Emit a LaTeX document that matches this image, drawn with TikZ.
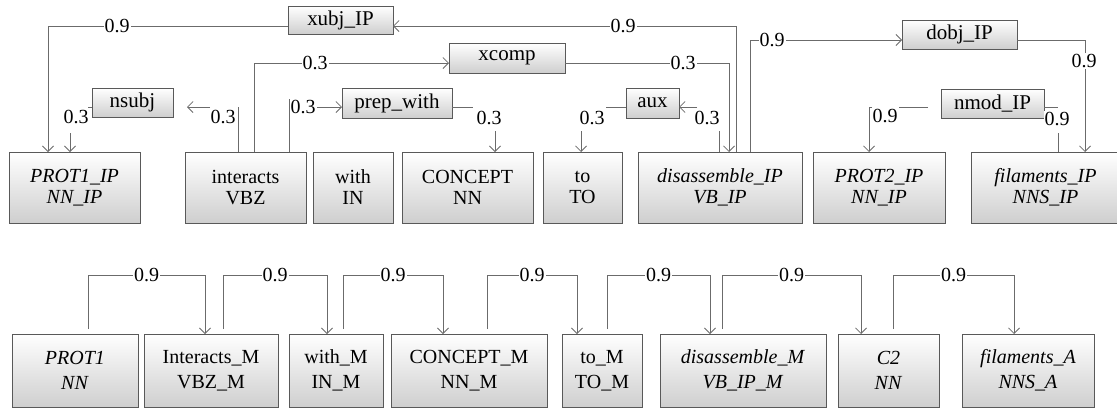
\documentclass[tikz,border=0pt]{standalone}
\usepackage{fontspec}
\setmainfont{Liberation Serif}
\usetikzlibrary{arrows.meta}
\tikzset{
  box/.style={draw=black!65, line width=0.8pt, top color=white, bottom color=black!19,
    inner sep=0pt, outer sep=0pt, align=center, font=\fontsize{20}{21}\selectfont},
  bbox/.style={box, font=\fontsize{20}{25}\selectfont, minimum height=73pt},
  tbox/.style={box, minimum height=71pt},
  rel/.style={box, font=\fontsize{21}{21}\selectfont},
  conn/.style={draw=black!58, line width=0.8pt},
  arr/.style={-{Straight Barb[length=5.5pt,width=11pt,line width=0.8pt]}},
  lbl/.style={fill=white, inner sep=1pt, font=\fontsize{20}{20}\selectfont},
}
\begin{document}
\begin{tikzpicture}[x=1pt,y=-1pt]
\clip (0,0) rectangle (1117,408);
% ---------- top row boxes ----------
\node[tbox, minimum width=131pt] (p1ip) at (74.5,187.5) {\textit{PROT1\_IP}\\\textit{NN\_IP}};
\node[tbox, minimum width=121pt] (inter) at (245.5,187.5) {interacts\\VBZ};
\node[tbox, minimum width=80pt] (with) at (353,187.5) {with\\IN};
\node[tbox, minimum width=131pt] (concept) at (467.5,187.5) {CONCEPT\\NN};
\node[tbox, minimum width=79pt] (to) at (582.5,187.5) {to\\TO};
\node[tbox, minimum width=164pt] (dis) at (720,187.5) {\textit{disassemble\_IP}\\\textit{VB\_IP}};
\node[tbox, minimum width=132pt] (p2ip) at (879,187.5) {\textit{PROT2\_IP}\\\textit{NN\_IP}};
\node[tbox, minimum width=149pt] (fil) at (1045.5,187.5) {\textit{filaments\_IP}\\\textit{NNS\_IP}};
% ---------- relation boxes ----------
\node[rel, minimum width=105pt, minimum height=28pt] (xubj) at (340.5,20) {xubj\_IP};
\node[rel, minimum width=116pt, minimum height=30pt] (xcomp) at (507,58) {xcomp};
\node[rel, minimum width=81pt, minimum height=29pt] (nsubj) at (132.5,102.5) {nsubj};
\node[rel, minimum width=110pt, minimum height=30pt] (prepw) at (397,103) {prep\_with};
\node[rel, minimum width=53pt, minimum height=30pt] (aux) at (652.5,103) {aux};
\node[rel, minimum width=115pt, minimum height=29pt] (dobj) at (959.5,34.5) {dobj\_IP};
\node[rel, minimum width=103pt, minimum height=29pt] (nmod) at (992.5,103.5) {nmod\_IP};
% ---------- bottom row boxes ----------
\node[bbox, minimum width=126pt] (prot1) at (75,370.5) {\textit{PROT1}\\\textit{NN}};
\node[bbox, minimum width=134pt] (interM) at (211,370.5) {Interacts\_M\\VBZ\_M};
\node[bbox, minimum width=94pt] (withM) at (336,370.5) {with\_M\\IN\_M};
\node[bbox, minimum width=156pt] (conceptM) at (469,370.5) {CONCEPT\_M\\NN\_M};
\node[bbox, minimum width=80pt] (toM) at (602,370.5) {to\_M\\TO\_M};
\node[bbox, minimum width=166pt] (disM) at (743,370.5) {\textit{disassemble\_M}\\\textit{VB\_IP\_M}};
\node[bbox, minimum width=101pt] (c2) at (888.5,370.5) {\textit{C2}\\\textit{NN}};
\node[bbox, minimum width=132pt] (filA) at (1028,370.5) {\textit{filaments\_A}\\\textit{NNS\_A}};

% ---------- top connectors ----------
% dis -> xubj -> p1ip
\draw[conn,arr] (736,0 |- dis.north) |- (xubj.east |- 0,26);
\draw[conn,arr] (xubj.west |- 0,26) -| (48,0 |- p1ip.north);
\node[lbl] (l1) at (623,26) {0.9};
\node[lbl] (l2) at (117,26) {0.9};
% inter -> xcomp -> dis
\draw[conn,arr] (254,0 |- inter.north) |- (xcomp.west |- 0,63);
\draw[conn,arr] (xcomp.east |- 0,63) -| (729,0 |- dis.north);
\node[lbl] (l3) at (315,63) {0.3};
\node[lbl] (l4) at (683,63) {0.3};
% inter -> nsubj -> p1ip
\draw[conn] (238,0 |- inter.north) -- (238,107);
\draw[conn,arr] (210,107) -- (187,107);
\node[lbl] (l5) at (223,117) {0.3};
\draw[conn] (nsubj.west |- 0,107) -- (88,107);
\draw[conn,arr] (70,133) -- (70,0 |- p1ip.north);
\node[lbl] (l6) at (76,117) {0.3};
% inter -> prep_with -> concept
\draw[conn] (289,0 |- inter.north) -- (289,99) -- (292,99);
\draw[conn,arr] (316,107) -- (prepw.west |- 0,107);
\node[lbl] (l7) at (303,107) {0.3};
\draw[conn] (prepw.east |- 0,107) -- (473,107);
\draw[conn,arr] (495,131) -- (495,0 |- concept.north);
\node[lbl] (l8) at (489,118) {0.3};
% dis -> aux -> to
\draw[conn] (719,0 |- dis.north) -- (719,131);
\draw[conn,arr] (697,107) -- (aux.east |- 0,107);
\node[lbl] (l9) at (707,118) {0.3};
\draw[conn] (aux.west |- 0,107) -- (606,107);
\draw[conn,arr] (581,131) -- (581,0 |- to.north);
\node[lbl] (l10) at (592,118) {0.3};
% dis -> dobj -> fil
\draw[conn,arr] (750,0 |- dis.north) |- (dobj.west |- 0,40);
\draw[conn,arr] (dobj.east |- 0,40) -| (1085,0 |- fil.north);
\node[lbl] (l11) at (772,40) {0.9};
\node[lbl] (l12) at (1084,61) {0.9};
% nmod -> p2ip ; fil -> nmod
\draw[conn] (928,107) -- (899,107);
\draw[conn,arr] (872,107) -- (869,107) -- (869,0 |- p2ip.north);
\node[lbl] (l13) at (885,116) {0.9};
\draw[conn] (nmod.east |- 0,107) -- (1058,107);
\draw[conn] (1058,0 |- fil.north) -- (1058,133);
\node[lbl] (l14) at (1057,119) {0.9};

% ---------- bottom connectors ----------
\draw[conn,arr] (88,329) -- (88,275) -| (205,0 |- interM.north);
\node[lbl] (b1) at (146.5,275) {0.9};
\draw[conn,arr] (223,329) -- (223,275) -| (327,0 |- withM.north);
\node[lbl] (b2) at (275,275) {0.9};
\draw[conn,arr] (343,329) -- (343,275) -| (443,0 |- conceptM.north);
\node[lbl] (b3) at (393,275) {0.9};
\draw[conn,arr] (487,329) -- (487,275) -| (577,0 |- toM.north);
\node[lbl] (b4) at (532,275) {0.9};
\draw[conn,arr] (607,329) -- (607,275) -| (710,0 |- disM.north);
\node[lbl] (b5) at (658.5,275) {0.9};
\draw[conn,arr] (722,329) -- (722,275) -| (861,0 |- c2.north);
\node[lbl] (b6) at (791.5,275) {0.9};
\draw[conn,arr] (893,329) -- (893,275) -| (1014,0 |- filA.north);
\node[lbl] (b7) at (953.5,275) {0.9};
\end{tikzpicture}
\end{document}
